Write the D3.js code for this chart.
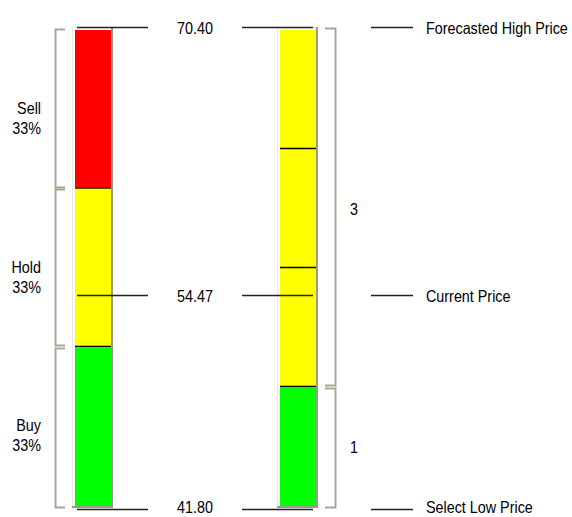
<!DOCTYPE html>
<html>
<head>
<meta charset="utf-8">
<script src="https://cdn.jsdelivr.net/npm/d3@7/dist/d3.min.js"></script>
<style>
  html, body { margin: 0; padding: 0; background: #fff; }
  svg { display: block; }
  text { font-family: "Liberation Sans", Arial, sans-serif; font-size: 14.8px; fill: #000; }
</style>
</head>
<body>
<svg id="chart" width="572" height="517"></svg>
<script>
// ---- data ----
const priceNames = ["Forecasted High Price", "Current Price", "Select Low Price"];
const priceValues = [70.40, 54.47, 41.80];
const priceTicks = ["70.40", "54.47", "41.80"];

const ratingCategories = ["Sell", "Hold", "Buy"];
const ratingPercents = [33, 33, 33];
const ratingColors = ["#ff0000", "#ffff00", "#00ff00"];

const analystCounts = [0, 3, 1]; // Sell, Hold, Buy

// ---- layout ----
const svg = d3.select("#chart");

const y = d3.scaleLinear()
  .domain([d3.min(priceValues), d3.max(priceValues)])
  .range([509, 27]);

const barTop = y(d3.max(priceValues)) + 3;
const barBottom = y(d3.min(priceValues)) - 3;

const bars = [
  { x0: 75, x1: 111, brX: 55, brDir: 1, labelX: 41, labelAnchor: "end" },
  { x0: 280, x1: 316, brX: 335, brDir: -1, labelX: 350, labelAnchor: "start" }
];

function label(x, yy, str, anchor) {
  svg.append("g")
    .attr("transform", `translate(${x},${yy}) scale(0.97,1.1)`)
    .append("text").attr("x", 0).attr("y", 0)
    .attr("text-anchor", anchor).text(str);
}

function drawFrame(b) {
  const g = svg.append("g");
  g.append("rect").attr("x", b.x0 - 3).attr("y", barTop - 3)
    .attr("width", b.x1 - b.x0 + 5).attr("height", barBottom - barTop + 5)
    .attr("fill", "#9c998c");
  g.append("rect").attr("x", b.x0 - 3).attr("y", barTop - 3)
    .attr("width", b.x1 - b.x0 + 3).attr("height", barBottom - barTop + 3)
    .attr("fill", "#ece9d8");
  g.append("rect").attr("x", b.x0 - 2).attr("y", barTop - 2)
    .attr("width", b.x1 - b.x0 + 2).attr("height", barBottom - barTop + 2)
    .attr("fill", "#ffffff");
  return g;
}

const bracketColor = "#a9a696";
function drawBracket(b, t, bt) {
  const tick = 10 * b.brDir;
  svg.append("path")
    .attr("d", `M${b.brX + tick},${t + 0.5}H${b.brX + 0.5}V${bt + 0.5}H${b.brX + tick}`)
    .attr("fill", "none").attr("stroke", bracketColor).attr("stroke-width", 2);
}

// ---- left bar: rating percentages ----
{
  const b = bars[0];
  const g = drawFrame(b);
  const total = d3.sum(ratingPercents);
  const cum = d3.cumsum(ratingPercents);
  const ys = d3.scaleLinear().domain([0, total]).range([barTop, barBottom]);
  ratingCategories.forEach((c, i) => {
    const s = i === 0 ? 0 : cum[i - 1];
    const e = cum[i];
    const t = ys(s), bt = ys(e);
    g.append("rect").attr("x", b.x0).attr("y", t)
      .attr("width", b.x1 - b.x0).attr("height", bt - t)
      .attr("fill", ratingColors[i]);
    if (i < ratingCategories.length - 1) {
      g.append("line").attr("x1", b.x0).attr("x2", b.x1)
        .attr("y1", Math.round(bt) - 0.5).attr("y2", Math.round(bt) - 0.5)
        .attr("stroke", "#000").attr("stroke-width", 1.3);
    }
    const bt0 = i === 0 ? t - 1 : t + 0.5;
    const bt1 = i === ratingCategories.length - 1 ? bt + 1 : bt - 2;
    drawBracket(b, Math.round(bt0), Math.round(bt1));
    const cy = (t + bt) / 2;
    label(b.labelX, cy + 4.5, c, b.labelAnchor);
    label(b.labelX, cy + 24.5, ratingPercents[i] + "%", b.labelAnchor);
  });
}

// ---- right bar: analyst counts ----
{
  const b = bars[1];
  const g = drawFrame(b);
  const total = d3.sum(analystCounts);
  const ys = d3.scaleLinear().domain([0, total]).range([barTop, barBottom]);
  let acc = 0;
  analystCounts.forEach((n, i) => {
    if (n === 0) return;
    const s = acc, e = acc + n;
    acc = e;
    const t = ys(s), bt = ys(e);
    g.append("rect").attr("x", b.x0).attr("y", t)
      .attr("width", b.x1 - b.x0).attr("height", bt - t)
      .attr("fill", ratingColors[i]);
    d3.range(s + 1, e + 1).forEach(k => {
      if (k >= total) return;
      const yy = Math.round(ys(k)) - 0.5;
      g.append("line").attr("x1", b.x0).attr("x2", b.x1)
        .attr("y1", yy).attr("y2", yy)
        .attr("stroke", "#000").attr("stroke-width", 1.3);
    });
    const bt0 = s === 0 ? t - 2 : t + 1;
    const bt1 = e === total ? bt + 1 : bt - 2;
    drawBracket(b, Math.round(bt0), Math.round(bt1));
    label(b.labelX, (t + bt) / 2 + 6, String(n), b.labelAnchor);
  });
}

// ---- price lines ----
priceValues.forEach((p, i) => {
  const yy = Math.round(y(p)) + 0.5;
  [[77, 148], [242, 313], [371, 413]].forEach(([a, z]) => {
    svg.append("line").attr("x1", a).attr("x2", z).attr("y1", yy).attr("y2", yy)
      .attr("stroke", "#222").attr("stroke-width", 1.5);
  });
  const base = Math.min(yy + 6, 513);
  label(195, base, priceTicks[i], "middle");
  label(426, base, priceNames[i], "start");
});
</script>
</body>
</html>
